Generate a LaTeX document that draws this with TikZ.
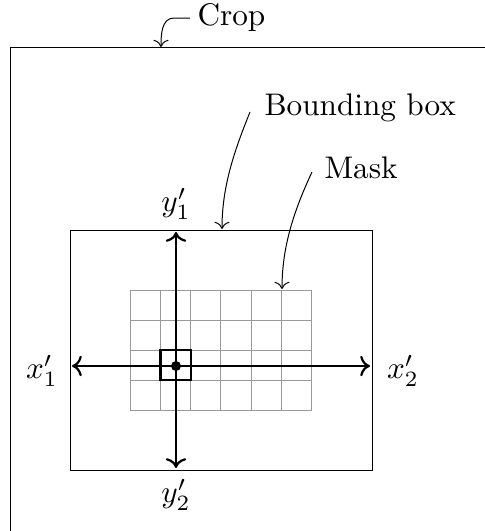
\documentclass[tikz,border=0pt]{standalone}
\usetikzlibrary{arrows.meta,calc}
\begin{document}
\begin{tikzpicture}[x=0.32pt,y=-0.32pt,
  line width=0.32pt,
  lbl/.style={inner sep=0pt},
  pointer/.style={->,line width=0.32pt},
  axis/.style={<->,line width=0.7pt},
  gridline/.style={gray!80,line width=0.32pt}]
\useasboundingbox (0,0) rectangle (485,531);
\begin{scope}
\clip (0,0) rectangle (485,531);
% crop rectangle
\draw (10,47) rectangle (600,650);
\end{scope}
% bounding box
\draw (70,230) rectangle (372,470);
% mask grid
\foreach \i in {0,...,6} \draw[gridline] ({130+\i*30.33},290) -- ({130+\i*30.33},410);
\foreach \j in {0,...,4} \draw[gridline] (130,{290+\j*30}) -- (312,{290+\j*30});
% axes
\coordinate (c) at (176,366);
\coordinate (xl) at (72,366);
\coordinate (xr) at (370,366);
\coordinate (yt) at (176,232);
\coordinate (yb) at (176,468);
\draw[axis] (xl) -- (xr);
\draw[axis] (yt) -- (yb);
\draw[line width=0.7pt] (160.5,350) rectangle (190.8,380);
\fill (c) circle (5);
% axis labels
\node[lbl] (x1) at (42,371) {$x'_1$};
\node[lbl] (x2) at (403,371) {$x'_2$};
\node[lbl] (y1) at (176,204) {$y'_1$};
\node[lbl] (y2) at (176,495) {$y'_2$};
% annotations
\node[lbl,anchor=west] (crop) at (197,18) {Crop};
\node[lbl,anchor=west] (bb) at (264,108) {Bounding box};
\node[lbl,anchor=west] (mask) at (324,168) {Mask};
\coordinate (cropT) at (161,47);
\coordinate (bbT) at (222,229);
\coordinate (maskT) at (282,289);
\draw[pointer] ($(crop.west)+(-7,0)$) -- ++(-16,0) to[out=180,in=90] (cropT);
\draw[pointer] ($(bb.west)+(-14,4)$) to[out=-112,in=90,looseness=0.9] (bbT);
\draw[pointer] ($(mask.west)+(-12,4)$) to[out=-115,in=90,looseness=0.9] (maskT);
\end{tikzpicture}
\end{document}
